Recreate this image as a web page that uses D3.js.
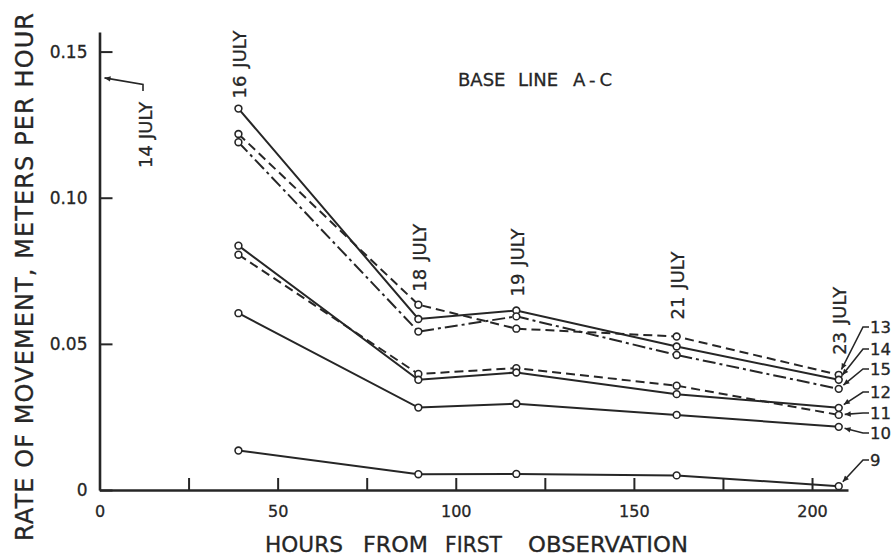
<!DOCTYPE html>
<html>
<head>
<meta charset="utf-8">
<script src="https://cdn.jsdelivr.net/npm/d3@7"></script>
<style>
  html, body { margin: 0; padding: 0; background: #fff; }
  svg { display: block; font-family: "DejaVu Sans", sans-serif; }
  svg text { stroke: #262626; stroke-width: 0.3px; }
</style>
</head>
<body>
<svg id="chart" width="894" height="559"></svg>
<script>
// Observation times (hours from first observation) and their dates
const hours = [39, 89.5, 117, 162, 207.5];
const dates = ["16 JULY", "18 JULY", "19 JULY", "21 JULY", "23 JULY"];

// Rate of movement, meters per hour, for each station on base line A-C
const station9  = [0.0135, 0.0054, 0.0055, 0.0050, 0.0013];
const station10 = [0.0605, 0.0282, 0.0295, 0.0257, 0.0216];
const station11 = [0.0805, 0.0397, 0.0417, 0.0357, 0.0257];
const station12 = [0.0836, 0.0377, 0.0402, 0.0328, 0.0281];
const station13 = [0.1218, 0.0634, 0.0552, 0.0525, 0.0394];
const station14 = [0.1305, 0.0585, 0.0614, 0.0491, 0.0377];
const station15 = [0.1190, 0.0542, 0.0594, 0.0462, 0.0346];

// 14 July reading, marked on the rate axis at hour 0
const july14Rate = 0.141;

const xTicks = [0, 25, 50, 75, 100, 125, 150, 175, 200];
const xTickLabels = ["0", "", "50", "", "100", "", "150", "", "200"];
const yTicks = [0, 0.05, 0.10, 0.15];
const yTickLabels = ["0", "0.05", "0.10", "0.15"];

const stations = [
  { name: "9",  values: station9 },
  { name: "10", values: station10 },
  { name: "11", values: station11 },
  { name: "12", values: station12 },
  { name: "13", values: station13 },
  { name: "14", values: station14 },
  { name: "15", values: station15 }
];

// line patterns and label placement
const dashFor = { "11": "9,5", "13": "9,5", "15": "13,4,3,4" };
const labelY = { "13": 327, "14": 349, "15": 369, "12": 392, "11": 413, "10": 433, "9": 460 };
const dateGap = [10, 13, 14, 17, 20];

const ink = "#262626";
const svg = d3.select("#chart");

const x = d3.scaleLinear().domain([0, 210.1]).range([99.5, 848]);
const y = d3.scaleLinear().domain([0, 0.1567]).range([490, 32]);

// arrowhead
svg.append("defs").append("marker")
  .attr("id", "arrow")
  .attr("viewBox", "0 0 10 10")
  .attr("refX", 10).attr("refY", 5)
  .attr("markerWidth", 8).attr("markerHeight", 6)
  .attr("markerUnits", "userSpaceOnUse")
  .attr("orient", "auto")
  .append("path").attr("d", "M0,0.5 L10,5 L0,9.5 Z").attr("fill", ink);

// axes
const xAxis = d3.axisBottom(x)
  .tickValues(xTicks)
  .tickFormat((d, i) => xTickLabels[i])
  .tickSizeInner(-12).tickSizeOuter(0).tickPadding(16);
const yAxis = d3.axisLeft(y)
  .tickValues(yTicks)
  .tickFormat((d, i) => yTickLabels[i])
  .tickSizeInner(-13).tickSizeOuter(0).tickPadding(12);

const gx = svg.append("g").attr("transform", `translate(0,${y(0)})`).call(xAxis);
const gy = svg.append("g").attr("transform", `translate(${x(0)},0)`).call(yAxis);
[gx, gy].forEach(g => {
  g.attr("font-family", null).attr("font-size", null);
  g.select(".domain").attr("stroke", ink).attr("stroke-width", 2.6);
  g.selectAll(".tick line").attr("stroke", ink).attr("stroke-width", 2);
  g.selectAll(".tick text").attr("fill", ink);
});
gx.selectAll(".tick text").attr("font-size", 16);
gy.selectAll(".tick text").attr("font-size", 17);

// station lines
const line = d3.line().x((d, i) => x(hours[i])).y(d => y(d));
svg.append("g").selectAll("path").data(stations).join("path")
  .attr("d", s => line(s.values))
  .attr("fill", "none")
  .attr("stroke", ink)
  .attr("stroke-width", 2)
  .attr("stroke-dasharray", s => dashFor[s.name] || null);

// observation markers
const pts = stations.flatMap(s => s.values.map((v, i) => ({ h: hours[i], v })));
svg.append("g").selectAll("circle").data(pts).join("circle")
  .attr("cx", d => x(d.h)).attr("cy", d => y(d.v)).attr("r", 3.4)
  .attr("fill", "#fff").attr("stroke", ink).attr("stroke-width", 1.6);

// rotated "DD JULY" label with a wide word gap
function dateLabel(sel, label, gap) {
  const [day, month] = label.split(" ");
  sel.append("tspan").text(day);
  sel.append("tspan").attr("dx", gap).text(month);
}

// date labels above each observation column
dates.forEach((label, i) => {
  const top = d3.max(stations, s => s.values[i]);
  svg.append("text")
    .attr("transform", `translate(${x(hours[i]) + 1},${y(top) - dateGap[i]}) rotate(-90)`)
    .attr("dy", "0.36em")
    .attr("font-size", 18).attr("fill", ink)
    .call(dateLabel, label, 8);
});

// 14 July pointer on the rate axis
const tipX = x(0) + 5, tipY = y(july14Rate);
svg.append("path")
  .attr("d", `M${tipX + 38.5},${tipY + 13} V${tipY + 6.5} L${tipX},${tipY}`)
  .attr("fill", "none").attr("stroke", ink).attr("stroke-width", 1.6)
  .attr("marker-end", "url(#arrow)");
svg.append("text")
  .attr("transform", `translate(${tipX + 47},${tipY + 90}) rotate(-90)`)
  .attr("font-size", 18).attr("fill", ink)
  .call(dateLabel, "14 JULY", 6);

// station number labels with leaders to the last observation
const last = hours.length - 1;
const stubX0 = 863, stubX1 = 869;
stations.forEach(s => {
  const ly = labelY[s.name];
  const cx = x(hours[last]), cy = y(s.values[last]);
  const dx = stubX0 - cx, dy = ly - cy, len = Math.hypot(dx, dy);
  const ex = cx + dx / len * 6, ey = cy + dy / len * 6;
  svg.append("path")
    .attr("d", `M${stubX1},${ly} H${stubX0} L${ex},${ey}`)
    .attr("fill", "none").attr("stroke", ink).attr("stroke-width", 1.6)
    .attr("marker-end", "url(#arrow)");
  svg.append("text")
    .attr("x", stubX1 + 1).attr("y", ly).attr("dy", "0.36em")
    .attr("font-size", 16.5).attr("fill", ink)
    .text(s.name);
});

// panel title, word by word
const baseLine = svg.append("text").attr("y", 86).attr("font-size", 18).attr("fill", ink);
baseLine.append("tspan").attr("x", 458).text("BASE");
baseLine.append("tspan").attr("x", 518).text("LINE");
baseLine.append("tspan").attr("x", 573).attr("textLength", 39).attr("lengthAdjust", "spacing").text("A-C");

// x-axis title
const xTitle = svg.append("text").attr("y", 552).attr("font-size", 22).attr("fill", ink);
[["HOURS", 265, 78], ["FROM", 363, 65], ["FIRST", 445, 57], ["OBSERVATION", 528, 160]]
  .forEach(([w, px, len]) => {
    xTitle.append("tspan").attr("x", px)
      .attr("textLength", len).attr("lengthAdjust", "spacingAndGlyphs").text(w);
  });

// y-axis title
svg.append("text")
  .attr("transform", "translate(33,541) rotate(-90)")
  .attr("font-size", 24).attr("fill", ink)
  .attr("textLength", 528).attr("lengthAdjust", "spacing")
  .text("RATE OF MOVEMENT, METERS PER HOUR");
</script>
</body>
</html>
